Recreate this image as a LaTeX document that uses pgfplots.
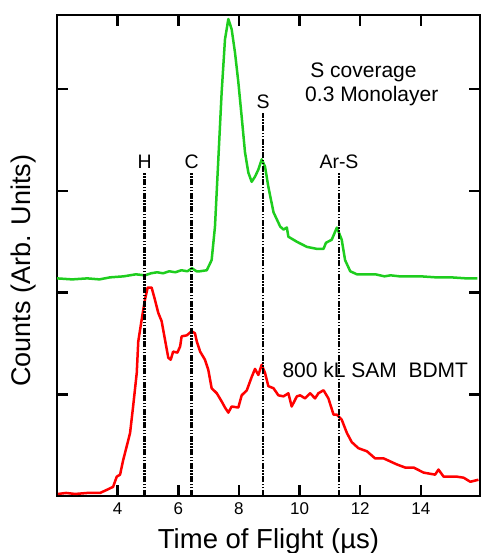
\documentclass[border=0pt]{standalone}
\usepackage{fontspec}
\setmainfont{Liberation Sans}
\usepackage{pgfplots}
\pgfplotsset{compat=1.18}
\definecolor{tofgreen}{RGB}{30,205,30}
\definecolor{tofred}{RGB}{255,0,0}
\tikzset{vline/.style={black, line width=2.5pt, dash pattern=on 6pt off 1.5pt on 1.5pt off 1.5pt on 1.5pt off 1.5pt}}
\begin{document}
\begin{tikzpicture}[x=1pt,y=1pt]
\useasboundingbox (-57,-57) rectangle (423,481+15);
\begin{axis}[
  at={(0,0)}, anchor=south west,
  scale only axis, width=423pt, height=481pt,
  xmin=2, xmax=15.95, ymin=0, ymax=4.73,
  xtick={4,6,8,10,12,14}, ytick={0,1,2,3,4}, yticklabels={},
  tick align=inside, major tick length=11pt,
  tick style={line width=2.5pt,black},
  axis line style={line width=2.5pt},
  /pgf/number format/assume math mode=true,
  xticklabel style={font=\fontsize{17}{19}\selectfont, yshift=-3pt},
  xlabel={Time of Flight (µs)},
  xlabel style={font=\fontsize{27.5}{30}\selectfont, at={(axis description cs:0.5,0)}, anchor=base, yshift=-52pt},
  ylabel={Counts (Arb. Units)},
  ylabel style={font=\fontsize{27}{30}\selectfont, at={(axis description cs:-0.078,0.468)}, anchor=center},
  clip=false,
]
\addplot[tofgreen, line width=2.5pt, line join=round] coordinates {
(2.0,2.14) (2.5,2.13) (3.0,2.14) (3.4,2.13) (3.75,2.15) (4.2,2.16) (4.6,2.18) (4.90,2.17) (5.1,2.19) (5.3,2.20) (5.5,2.19) (5.7,2.21) (5.9,2.20) (6.1,2.22) (6.3,2.21) (6.45,2.24) (6.6,2.21) (6.72,2.21) (6.94,2.22) (7.10,2.32) (7.21,2.65) (7.32,3.31) (7.43,3.97) (7.54,4.49) (7.65,4.69) (7.76,4.59) (7.87,4.36) (7.98,4.07) (8.09,3.73) (8.20,3.38) (8.31,3.18) (8.42,3.09) (8.53,3.14) (8.64,3.21) (8.75,3.31) (8.86,3.24) (8.97,3.04) (9.14,2.79) (9.36,2.65) (9.47,2.62) (9.58,2.64) (9.63,2.55) (9.91,2.50) (10.24,2.45) (10.57,2.43) (10.79,2.43) (10.87,2.49) (11.06,2.52) (11.23,2.64) (11.39,2.52) (11.50,2.32) (11.67,2.21) (11.89,2.18) (12.22,2.18) (12.5,2.18) (12.8,2.16) (13.0,2.17) (13.3,2.16) (13.5,2.16) (14.0,2.16) (14.5,2.15) (15.0,2.15) (15.5,2.14) (15.86,2.14)
};
\addplot[tofred, line width=2.5pt, line join=round] coordinates {
(2.03,0.02) (2.3,0.03) (2.6,0.02) (3.0,0.03) (3.2,0.03) (3.42,0.03) (3.64,0.06) (3.85,0.09) (3.97,0.19) (4.08,0.21) (4.18,0.35) (4.30,0.49) (4.41,0.62) (4.51,0.88) (4.63,1.21) (4.68,1.52) (4.79,1.73) (4.90,1.93) (4.99,2.05) (5.12,2.05) (5.23,1.93) (5.34,1.80) (5.45,1.72) (5.56,1.54) (5.67,1.36) (5.75,1.34) (5.83,1.42) (5.97,1.41) (6.06,1.47) (6.11,1.57) (6.28,1.58) (6.44,1.62) (6.55,1.60) (6.61,1.52) (6.72,1.42) (6.88,1.34) (6.99,1.24) (7.10,1.06) (7.27,1.01) (7.43,0.93) (7.54,0.87) (7.65,0.82) (7.76,0.88) (7.98,0.87) (8.09,0.99) (8.26,1.04) (8.42,1.17) (8.53,1.25) (8.64,1.19) (8.75,1.29) (8.86,1.21) (8.97,1.08) (9.14,1.06) (9.30,0.99) (9.47,0.98) (9.63,1.01) (9.74,0.88) (9.91,0.98) (10.02,0.99) (10.18,0.96) (10.35,1.01) (10.51,0.96) (10.62,1.01) (10.79,1.04) (10.95,0.96) (11.12,0.80) (11.23,0.80) (11.39,0.75) (11.56,0.62) (11.72,0.53) (11.94,0.47) (12.22,0.44) (12.49,0.37) (12.77,0.37) (12.99,0.34) (13.21,0.31) (13.48,0.28) (13.76,0.28) (14.09,0.23) (14.47,0.21) (14.58,0.26) (14.75,0.19) (14.97,0.19) (15.19,0.19) (15.41,0.18) (15.63,0.14) (15.90,0.16)
};
\addplot[vline] coordinates {(4.89,0) (4.89,3.18)};
\addplot[vline] coordinates {(6.44,0) (6.44,3.18)};
\addplot[vline] coordinates {(8.80,0) (8.80,3.77)};
\addplot[vline] coordinates {(11.30,0) (11.30,3.18)};
\node[font=\fontsize{19.5}{21}\selectfont, anchor=south, inner sep=2pt] at (axis cs:4.89,3.20) {H};
\node[font=\fontsize{19.5}{21}\selectfont, anchor=south, inner sep=2pt] at (axis cs:6.44,3.20) {C};
\node[font=\fontsize{19.5}{21}\selectfont, anchor=south, inner sep=2pt] at (axis cs:8.80,3.79) {S};
\node[font=\fontsize{19.5}{21}\selectfont, anchor=south, inner sep=2pt] at (axis cs:11.30,3.20) {Ar-S};
\node[font=\fontsize{21}{23}\selectfont, anchor=west, inner sep=0pt] at (axis cs:10.35,4.17) {S coverage};
\node[font=\fontsize{21}{23}\selectfont, anchor=west, inner sep=0pt] at (axis cs:10.18,3.93) {0.3 Monolayer};
\node[font=\fontsize{21}{23}\selectfont, anchor=west, inner sep=0pt] at (axis cs:9.43,1.24) {800 kL SAM\ \ BDMT};
\end{axis}
\end{tikzpicture}
\end{document}
